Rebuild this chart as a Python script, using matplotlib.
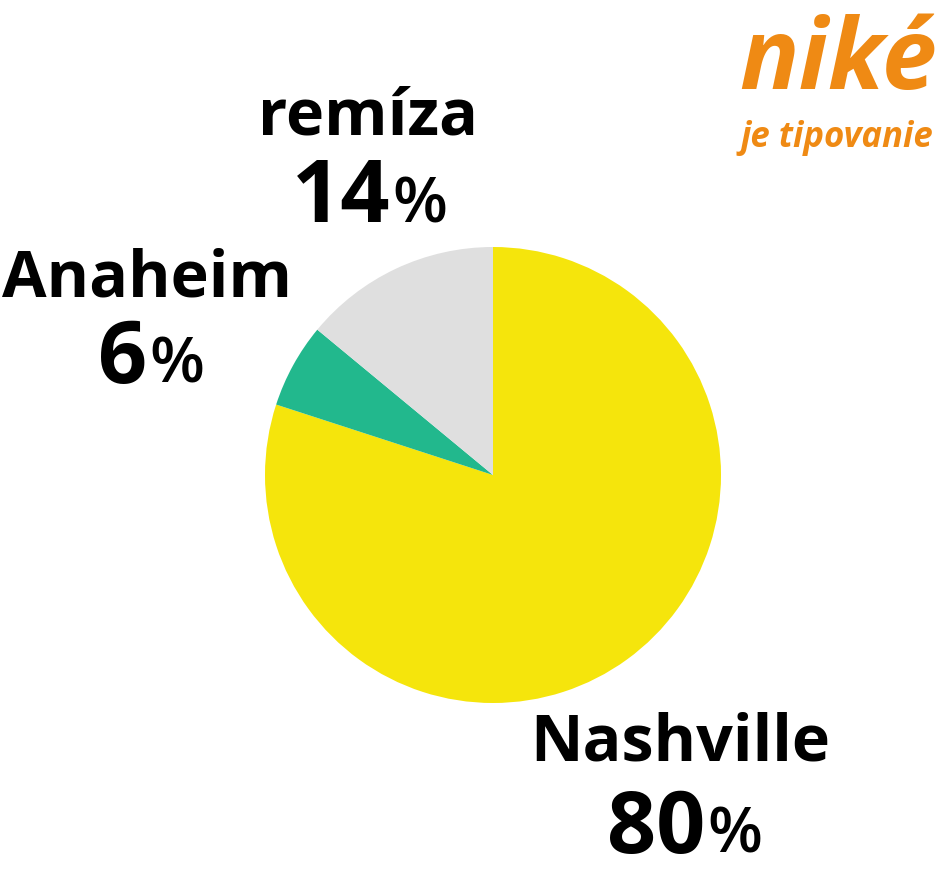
import matplotlib
matplotlib.use("Agg")
import matplotlib.pyplot as plt

labels = ["Nashville", "Anaheim", "remíza"]
values = [80, 6, 14]
colors = ["#F5E50C", "#22B88D", "#DFDFDF"]

W, H = 939, 882
fig = plt.figure(figsize=(W / 100, H / 100), dpi=100)
ax = fig.add_axes([0, 0, 1, 1])

cx, cy, r = 493, H - 475, 228
ax.pie(values, colors=colors, startangle=90, counterclock=False,
       center=(cx, cy), radius=r, wedgeprops=dict(linewidth=0))
ax.set_xlim(0, W)
ax.set_ylim(0, H)
ax.set_aspect("equal")
ax.axis("off")

FONT = "Open Sans"
# label positions (pixel coordinates from top-left): name center, number line
label_pos = {
    "remíza": (368, 118, 390, 200),
    "Anaheim": (147, 280, 147, 360),
    "Nashville": (680, 744, 705, 830),
}
for lab, val in zip(labels, values):
    nx, ny, px, py = label_pos[lab]
    ax.text(nx, H - ny, lab, fontsize=46.5, fontweight="bold", family=FONT,
            ha="center", va="center", color="black")
    ax.text(px, H - py, f"{val}", fontsize=62, fontweight="bold", family=FONT,
            ha="right", va="center", color="black")
    ax.text(px + 2, H - py - 6, "%", fontsize=46, fontweight="semibold", family=FONT,
            ha="left", va="center", color="black")

orange = "#EF8A14"
ax.text(838, H - 64, "niké", fontsize=71, fontweight="bold", style="italic",
        family=FONT, ha="center", va="center", color=orange)
ax.text(837, H - 138, "je tipovanie", fontsize=25, fontweight="bold", style="italic",
        family=FONT, ha="center", va="center", color=orange)

fig.savefig("out.png", dpi=100)
